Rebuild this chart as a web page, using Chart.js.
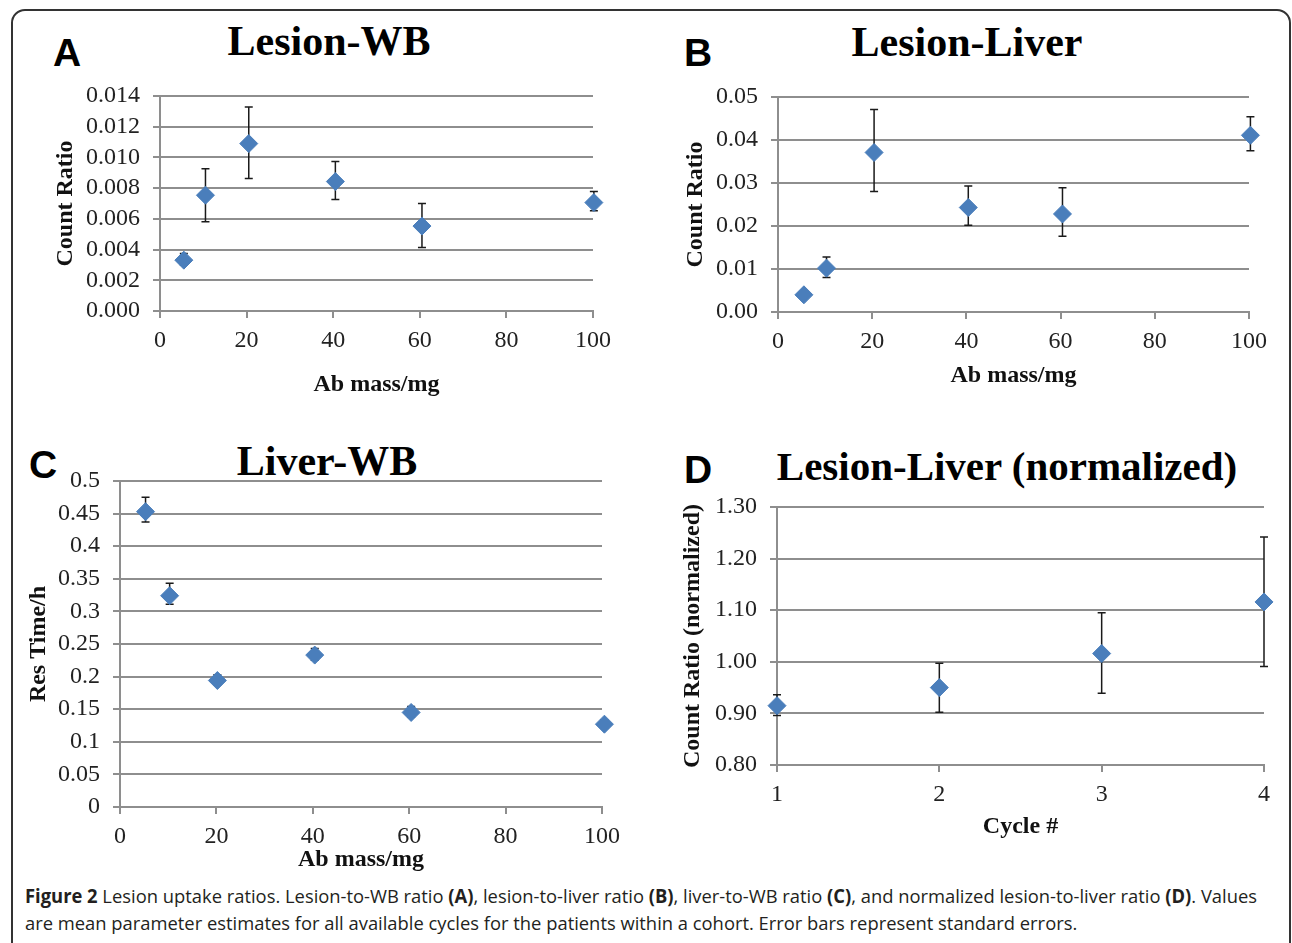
<!DOCTYPE html>
<html>
<head>
<meta charset="utf-8">
<title>Figure 2 Lesion uptake ratios</title>
<script src="https://cdn.jsdelivr.net/npm/chart.js@4.4.1/dist/chart.umd.min.js"></script>
<style>
  html, body { margin: 0; padding: 0; background: #fff; }
  body { width: 1292px; height: 943px; position: relative; overflow: hidden; }
  #frame { position: absolute; left: 11px; top: 9px; width: 1280px; height: 1000px; box-sizing: border-box;
           border: 2px solid #333; border-radius: 14px; }
  canvas { position: absolute; }
  .letter { position: absolute; font: bold 39px "Liberation Sans", Arial, sans-serif; line-height: 1; color: #000; }
  .title { position: absolute; width: 600px; text-align: center; white-space: nowrap;
           font: bold 42px "Liberation Serif", "Times New Roman", serif; line-height: 1; color: #000; }
  #caption { position: absolute; left: 25px; top: 883px; font: 19px "Open Sans", sans-serif; line-height: 27px; color: #231f20; }
  #caption div { white-space: nowrap; transform-origin: left top; }
</style>
</head>
<body>
<div id="frame"></div>

<div class="letter" style="left:53px; top:33px;">A</div>
<div class="letter" style="left:684px; top:33px;">B</div>
<div class="letter" style="left:29px; top:445px;">C</div>
<div class="letter" style="left:684px; top:450px;">D</div>

<div class="title" style="left:29px; top:20px;">Lesion-WB</div>
<div class="title" style="left:667px; top:21px;">Lesion-Liver</div>
<div class="title" style="left:27px; top:440px;">Liver-WB</div>
<div class="title" style="left:707px; top:446px; font-size:41px;">Lesion-Liver (normalized)</div>

<canvas id="chartA" width="572" height="319" style="left:51px; top:80px;"></canvas>
<canvas id="chartB" width="597" height="309" style="left:681px; top:81px;"></canvas>
<canvas id="chartC" width="608" height="409" style="left:24px; top:465px;"></canvas>
<canvas id="chartD" width="612" height="350" style="left:678px; top:491px;"></canvas>

<div id="caption">
  <div id="line1"><span id="line1Text"><b>Figure 2</b> Lesion uptake ratios. Lesion-to-WB ratio <b>(A)</b>, lesion-to-liver ratio <b>(B)</b>, liver-to-WB ratio <b>(C)</b>, and normalized lesion-to-liver ratio <b>(D)</b>. Values</span></div>
  <div id="line2"><span>are mean parameter estimates for all available cycles for the patients within a cohort. Error bars represent standard errors.</span></div>
</div>

<script>
// A: lesion-to-WB
const massA = [5.5, 10.5, 20.5, 40.5, 60.5, 100.2];
const lesionWB = [0.00331, 0.00754, 0.0109, 0.00843, 0.00553, 0.00706];
const lesionWBHigh = [0.00375, 0.00927, 0.01328, 0.00973, 0.0070, 0.00778];
const lesionWBLow = [0.00300, 0.00581, 0.00862, 0.00726, 0.00414, 0.00652];

// B: lesion-to-liver
const massB = [5.5, 10.3, 20.4, 40.4, 60.4, 100.3];
const lesionLiver = [0.0040, 0.0102, 0.0371, 0.0243, 0.0228, 0.0411];
const lesionLiverHigh = [0.0042, 0.0128, 0.0471, 0.0293, 0.0289, 0.0454];
const lesionLiverLow = [0.0038, 0.0080, 0.0280, 0.0202, 0.0176, 0.0375];

// C: liver-to-WB residence time
const massC = [5.3, 10.3, 20.2, 40.4, 60.4, 100.5];
const liverWB = [0.453, 0.324, 0.194, 0.233, 0.145, 0.127];
const liverWBHigh = [0.475, 0.343, 0.203, 0.243, 0.154, 0.134];
const liverWBLow = [0.437, 0.311, 0.188, 0.225, 0.138, 0.121];

// D: normalized lesion-to-liver per cycle
const cycles = [1, 2, 3, 4];
const normRatio = [0.915, 0.950, 1.016, 1.116];
const normRatioHigh = [0.936, 0.997, 1.095, 1.242];
const normRatioLow = [0.896, 0.902, 0.939, 0.991];

const gridGray = "#8e8e8e";
const markerBlue = "#4a7ebb";
const tickFont = { family: "Liberation Serif", size: 24 };
const axisTitleFont = { family: "Liberation Serif", size: 24, weight: "bold" };

// error bars go under the markers
const errorBars = {
  id: "errorBars",
  beforeDatasetsDraw(chart) {
    const { ctx, scales: { x, y } } = chart;
    ctx.save();
    ctx.strokeStyle = "#1a1a1a";
    ctx.lineWidth = 1.5;
    chart.data.datasets[0].data.forEach((p) => {
      const px = x.getPixelForValue(p.x);
      const top = y.getPixelForValue(p.hi);
      const bot = y.getPixelForValue(p.lo);
      ctx.beginPath();
      ctx.moveTo(px, top); ctx.lineTo(px, bot);
      ctx.moveTo(px - 4, top); ctx.lineTo(px + 4, top);
      ctx.moveTo(px - 4, bot); ctx.lineTo(px + 4, bot);
      ctx.stroke();
    });
    ctx.restore();
  }
};

function points(xs, ys, hi, lo) {
  return xs.map((x, i) => ({ x: x, y: ys[i], hi: hi[i], lo: lo[i] }));
}

function makeChart(id, cfg) {
  return new Chart(document.getElementById(id), {
    type: "scatter",
    data: {
      datasets: [{
        data: cfg.data,
        pointStyle: "rectRot",
        pointRadius: 9,
        pointHoverRadius: 9,
        backgroundColor: markerBlue,
        borderColor: markerBlue,
        borderWidth: 1,
        clip: false
      }]
    },
    options: {
      responsive: false,
      animation: false,
      devicePixelRatio: 1,
      layout: { padding: { top: cfg.padTop, right: cfg.padRight, left: 0, bottom: 0 } },
      plugins: { legend: { display: false }, tooltip: { enabled: false } },
      scales: {
        x: {
          type: "linear",
          min: cfg.xMin, max: cfg.xMax,
          ticks: { stepSize: cfg.xStep, font: tickFont, color: "#222", padding: 8, maxRotation: 0, autoSkip: false },
          grid: { drawOnChartArea: false, color: gridGray, lineWidth: 2, tickLength: 7 },
          border: { color: gridGray, width: 2 },
          title: { display: true, text: cfg.xTitle, font: axisTitleFont, color: "#111", padding: 0 },
          afterFit(scale) {
            scale.height = cfg.xAxisH;
            scale.paddingLeft = 0;
            scale.paddingRight = 0;
          }
        },
        y: {
          type: "linear",
          min: cfg.yMin, max: cfg.yMax,
          ticks: { stepSize: cfg.yStep, font: tickFont, color: "#222", padding: 13, autoSkip: false, callback: cfg.yFormat },
          grid: { color: gridGray, lineWidth: 2, tickLength: 7 },
          border: { color: gridGray, width: 2 },
          title: { display: true, text: cfg.yTitle, font: axisTitleFont, color: "#111", padding: 0 },
          afterFit(scale) {
            scale.width = cfg.yAxisW;
            scale.paddingTop = 0;
            scale.paddingBottom = 0;
          }
        }
      }
    },
    plugins: [errorBars]
  });
}

makeChart("chartA", {
  data: points(massA, lesionWB, lesionWBHigh, lesionWBLow),
  xMin: 0, xMax: 100, xStep: 20, yMin: 0, yMax: 0.014, yStep: 0.002,
  yFormat: (v) => v.toFixed(3),
  xTitle: "Ab mass/mg", yTitle: "Count Ratio",
  yAxisW: 109, xAxisH: 88, padTop: 16, padRight: 30
});

makeChart("chartB", {
  data: points(massB, lesionLiver, lesionLiverHigh, lesionLiverLow),
  xMin: 0, xMax: 100, xStep: 20, yMin: 0, yMax: 0.05, yStep: 0.01,
  yFormat: (v) => v.toFixed(2),
  xTitle: "Ab mass/mg", yTitle: "Count Ratio",
  yAxisW: 97, xAxisH: 78, padTop: 16, padRight: 29
});

makeChart("chartC", {
  data: points(massC, liverWB, liverWBHigh, liverWBLow),
  xMin: 0, xMax: 100, xStep: 20, yMin: 0, yMax: 0.5, yStep: 0.05,
  yFormat: (v) => String(Number(v.toFixed(2))),
  xTitle: "Ab mass/mg", yTitle: "Res Time/h",
  yAxisW: 96, xAxisH: 67, padTop: 16, padRight: 30
});

makeChart("chartD", {
  data: points(cycles, normRatio, normRatioHigh, normRatioLow),
  xMin: 1, xMax: 4, xStep: 1, yMin: 0.8, yMax: 1.3, yStep: 0.1,
  yFormat: (v) => v.toFixed(2),
  xTitle: "Cycle #", yTitle: "Count Ratio (normalized)",
  yAxisW: 99, xAxisH: 76, padTop: 16, padRight: 26
});

// squeeze the caption to the condensed width of the original
const lineWidth = document.getElementById("line1Text").getBoundingClientRect().width;
const squeeze = 1232 / lineWidth;
document.getElementById("line1").style.transform = "scaleX(" + squeeze + ")";
document.getElementById("line2").style.transform = "scaleX(" + squeeze + ")";
</script>
</body>
</html>
